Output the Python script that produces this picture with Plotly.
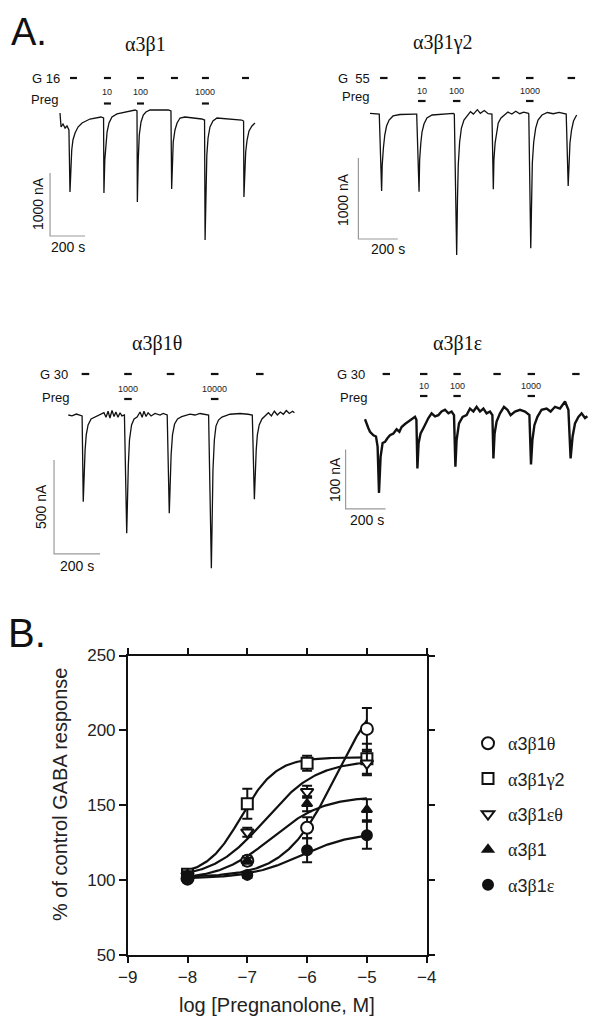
import plotly.graph_objects as go

# The page body has an 8 px default margin, so the figure is sized and shifted
# so that its content lands on the 600 x 1025 window exactly.
OFF = 8
W, H = 600 - OFF, 1025 - 2 * OFF
SANS = "Liberation Sans, Arial, sans-serif"
SERIF = "Liberation Serif, Times New Roman, serif"


def fx(px):
    return (px - OFF) / W


def fy(py):
    return 1 - (py - OFF) / H


# ── Panel A: oocyte current traces (time s, current nA) ───────────────────────
A31_T = [0, 6, 17, 29, 40, 51, 57, 62, 67, 74, 86, 103, 126, 171, 234,
         249, 251, 256, 261, 269, 280, 297, 326, 371, 429,
         440, 442, 447, 453, 463, 476, 491, 514, 619,
         634, 638, 642, 647, 657, 669, 686, 714, 810,
         826, 829, 833, 839, 846, 857, 874, 897, 1038,
         1049, 1051, 1056, 1061, 1069, 1080, 1097, 1114]
A31_I = [-48, -270, -222, -286, -254, -317, -1302, -873, -635, -476, -365, -270, -206, -143, -111,
         -127, -1317, -794, -556, -349, -206, -111, -63, -32, 0,
         -16, -1460, -794, -397, -190, -79, -32, 0, 0,
         -16, -1254, -794, -508, -317, -206, -127, -111, -143,
         -159, -2063, -1190, -714, -444, -270, -175, -127, -159,
         -175, -1381, -952, -667, -476, -333, -254, -206]
A31_G = [57, 251, 440, 634, 811, 1040]

A31G2_T = [0, 47, 59, 62, 68, 75, 84, 97, 117, 152, 228,
           237, 249, 252, 258, 264, 274, 289, 315, 423,
           428, 440, 444, 448, 455, 464, 477, 497, 510, 525, 545, 560, 580, 600, 618,
           619, 626, 629, 635, 642, 651, 665, 685, 700, 720, 740, 760, 780, 804,
           806, 816, 820, 824, 831, 841, 853, 873, 900, 930, 960, 993,
           996, 1006, 1010, 1015, 1023, 1033, 1049]
A31G2_I = [0, -9, -959, -640, -428, -268, -157, -83, -33, -15, -9,
           -9, -968, -577, -367, -231, -132, -58, -21, 0,
           -9, -1750, -1070, -638, -354, -182, -83, -21, 20, -10, 45, 0, 35, -5, 0,
           -9, -938, -577, -367, -231, -120, -58, -21, 15, -10, 25, -5, 15, 0,
           -9, -1667, -1009, -614, -354, -182, -83, -21, 10, -5, 12, 0,
           -9, -898, -577, -367, -207, -95, -21]
A31G2_G = [51, 244, 421, 620, 792, 1003]

A31T_T = [0, 16, 35, 60, 65, 68, 73, 78, 86, 99, 116, 138, 155, 164, 173, 181, 190, 199, 207, 216,
          225, 233, 244,
          254, 257, 261, 266, 275, 286, 299, 312, 321, 329, 338, 347, 360, 377, 399, 412, 428,
          430, 439, 442, 447, 453, 462, 475, 493, 529, 551, 573, 595, 610,
          622, 625, 629, 635, 642, 653, 668, 703, 747, 782, 800,
          809, 812, 817, 822, 830, 842, 855, 870, 883, 896, 909, 922, 935, 948, 961, 975, 983]
A31T_I = [0, -5, 5, -5, -461, -319, -186, -106, -53, -21, -11, 0, 12, -12, 20, -16, 24, -8, 16, -12,
          12, -5, 0,
          -629, -452, -266, -133, -53, -21, -11, 16, -12, 20, -8, 12, -5, 8, 0, 8, 0,
          0, -523, -372, -213, -106, -48, -21, -9, 5, 0, 8, 4, 0,
          -815, -558, -293, -133, -59, -27, -11, 4, 8, 4, 0,
          -448, -319, -186, -106, -53, -21, -5, 12, -5, 20, 0, 16, 4, 24, 8, 20, 12]
A31T_G = [58, 243, 428, 620, 816]

A31E_T = [0, 8, 17, 25, 42, 55, 63, 70, 78, 88, 100, 112, 125, 142, 158, 172, 183, 200, 217, 233,
          250, 257, 262, 268, 278, 295, 317, 333, 350, 367, 383, 400, 417, 433, 445, 452, 458, 470,
          488, 508, 525, 542, 558, 575, 592, 608, 625, 637, 642, 648, 658, 675, 695, 712, 728, 750,
          775, 800, 822, 830, 837, 847, 862, 883, 908, 928, 950, 975, 1000, 1017, 1028, 1038, 1050,
          1067, 1083, 1100, 1112]
A31E_I = [-24, -32, -39, -45, -51, -53, -70, -148, -87, -64, -62, -56, -51, -48, -41, -45, -37, -32,
          -28, -25, -20, -25, -107, -64, -48, -37, -22, -14, -19, -17, -11, -8, -14, -11, -17, -104,
          -59, -31, -20, -17, -6, -11, -3, -11, -6, -14, -11, -17, -90, -48, -28, -14, -3, -8, -17,
          -11, -8, -11, -17, -100, -59, -34, -20, -8, -6, -11, -3, -6, 6, -8, -90, -53, -31, -20,
          -14, -22, -19]
A31E_G = [88, 275, 442, 642, 813, 1036]

# ── Panel B: concentration-response ───────────────────────────────────────────
LOG_CONC = [-8, -7, -6, -5]
SERIES = ["α3β1θ", "α3β1γ2", "α3β1εθ", "α3β1", "α3β1ε"]
RESP_THETA = [101, 113, 135, 201]
RESP_GAMMA2 = [104, 151, 178, 181]
RESP_EPSTHETA = [103, 132, 159, 178]
RESP_A3B1 = [104, 113, 151, 147]
RESP_EPS = [101, 103.5, 120, 130]
SEM_THETA = [2, 3, 7, 14]
SEM_GAMMA2 = [2, 10, 5, 10]
SEM_EPSTHETA = [2, 3, 4, 8]
SEM_A3B1 = [2, 2, 5, 7]
SEM_EPS = [1, 2, 8, 9]
# Hill fit: bottom, top, logEC50, slope
FIT_THETA = [102, 240, -5.5, 1.0]
FIT_GAMMA2 = [103, 182, -7.1, 1.5]
FIT_EPSTHETA = [101, 180, -6.7, 1.0]
FIT_A3B1 = [100, 156, -6.6, 1.0]
FIT_EPS = [101, 132, -6.1, 1.0]

fig = go.Figure()

# ---------------------------------------------------------------- panel A
panels = [
    dict(t=A31_T, i=A31_I, g=A31_G, preg=[1, 2, 4], plbl=["10", "100", "1000"], gdur=40,
         title="α3β1", gtxt="G 16", box=(20, 60, 292, 280), org=(60, 110), sx=0.175, sy=0.063,
         title_xy=(145, 45), g_y=78, p_y=103.5, lbl_y=92, gtxt_x=62, ptxt_x=59.5, ptxt_y=99,
         bar=(-57, -2000), bar_s=200, bar_na=1000, vlab=(38, 204), hlab=(68, 247), lw=1.3),
    dict(t=A31G2_T, i=A31G2_I, g=A31G2_G, preg=[1, 2, 4], plbl=["10", "100", "1000"], gdur=38,
         title="α3β1γ2", gtxt="G  55", box=(318, 60, 595, 280), org=(370, 113.3), sx=0.197, sy=0.081,
         title_xy=(443, 43), g_y=78, p_y=101, lbl_y=91, gtxt_x=372, ptxt_x=371, ptxt_y=97,
         bar=(-59, -1552), bar_s=200, bar_na=1000, vlab=(343, 200), hlab=(388, 249), lw=1.3),
    dict(t=A31T_T, i=A31T_I, g=A31T_G, preg=[1, 3], plbl=["1000", "10000"], gdur=33,
         title="α3β1θ", gtxt="G 30", box=(20, 360, 300, 590), org=(68.3, 415), sx=0.23, sy=0.188,
         title_xy=(157, 343), g_y=374, p_y=399, lbl_y=389, gtxt_x=70, ptxt_x=71, ptxt_y=397,
         bar=(-62, -739), bar_s=200, bar_na=500, vlab=(41, 507), hlab=(77, 566), lw=1.3),
    dict(t=A31E_T, i=A31E_I, g=A31E_G, preg=[1, 2, 4], plbl=["10", "100", "1000"], gdur=37,
         title="α3β1ε", gtxt="G 30", box=(318, 360, 598, 590), org=(365, 405), sx=0.2, sy=0.594,
         title_xy=(457, 343), g_y=374, p_y=396, lbl_y=386, gtxt_x=367, ptxt_x=368.5, ptxt_y=397,
         bar=(-97, -175), bar_s=200, bar_na=100, vlab=(335, 480), hlab=(367, 520), lw=2.4),
]

annotations = []
shapes = []
for k, p in enumerate(panels, start=2):
    xa, ya = f"x{k}", f"y{k}"
    x0, y0, x1, y1 = p["box"]
    ox, oy = p["org"]
    fig.update_layout({
        f"xaxis{k}": dict(domain=[fx(x0), fx(x1)], range=[(x0 - ox) / p["sx"], (x1 - ox) / p["sx"]],
                          visible=False, anchor=ya, fixedrange=True),
        f"yaxis{k}": dict(domain=[fy(y1), fy(y0)], range=[(oy - y1) / p["sy"], (oy - y0) / p["sy"]],
                          visible=False, anchor=xa, fixedrange=True),
    })
    fig.add_trace(go.Scatter(x=p["t"], y=p["i"], mode="lines", xaxis=xa, yaxis=ya,
                             line=dict(color="#111111", width=p["lw"]), showlegend=False,
                             hoverinfo="skip"))
    # scale bar
    bt, bi = p["bar"]
    fig.add_trace(go.Scatter(x=[bt, bt, bt + p["bar_s"]], y=[bi + p["bar_na"], bi, bi],
                             mode="lines", xaxis=xa, yaxis=ya, showlegend=False, hoverinfo="skip",
                             line=dict(color="#9a9a9a", width=1.2)))
    # drug application bars
    for g in p["g"]:
        shapes.append(dict(type="line", xref=xa, yref="paper", x0=g, x1=g + p["gdur"],
                           y0=fy(p["g_y"]), y1=fy(p["g_y"]), line=dict(color="#111111", width=2.2)))
    for j, lbl in zip(p["preg"], p["plbl"]):
        g = p["g"][j]
        shapes.append(dict(type="line", xref=xa, yref="paper", x0=g, x1=g + p["gdur"],
                           y0=fy(p["p_y"]), y1=fy(p["p_y"]), line=dict(color="#111111", width=2.2)))
        annotations.append(dict(text=lbl, xref=xa, yref="paper", x=g + p["gdur"] / 2, y=fy(p["lbl_y"]),
                                xanchor="center", yanchor="middle",
                                font=dict(family=SANS, size=9, color="#222")))
    annotations += [
        dict(text=p["title"], x=fx(p["title_xy"][0]), y=fy(p["title_xy"][1]), xanchor="center",
             yanchor="middle", font=dict(family=SERIF, size=20, color="#111")),
        dict(text=p["gtxt"], x=fx(p["gtxt_x"]), y=fy(p["g_y"]), xanchor="right", yanchor="middle",
             font=dict(family=SANS, size=13, color="#111")),
        dict(text="Preg", x=fx(p["ptxt_x"]), y=fy(p["ptxt_y"]), xanchor="right", yanchor="middle",
             font=dict(family=SANS, size=13, color="#111")),
        dict(text=f"{p['bar_na']} nA", x=fx(p["vlab"][0]), y=fy(p["vlab"][1]), xanchor="center",
             yanchor="middle", textangle=-90, font=dict(family=SANS, size=14, color="#111")),
        dict(text=f"{p['bar_s']} s", x=fx(p["hlab"][0]), y=fy(p["hlab"][1]), xanchor="center",
             yanchor="middle", font=dict(family=SANS, size=14, color="#111")),
    ]

# ---------------------------------------------------------------- panel B
resp = [RESP_THETA, RESP_GAMMA2, RESP_EPSTHETA, RESP_A3B1, RESP_EPS]
sem = [SEM_THETA, SEM_GAMMA2, SEM_EPSTHETA, SEM_A3B1, SEM_EPS]
fits = [FIT_THETA, FIT_GAMMA2, FIT_EPSTHETA, FIT_A3B1, FIT_EPS]
symbols = ["circle", "square", "triangle-down", "triangle-up", "circle"]
fills = ["white", "white", "white", "#111111", "#111111"]
sizes = [12, 11, 11, 9, 10]

xs = [LOG_CONC[0] + n * (LOG_CONC[-1] - LOG_CONC[0]) / 150 for n in range(151)]
for f in fits:
    bot, top, ec, h = f
    fig.add_trace(go.Scatter(x=xs, y=[bot + (top - bot) / (1 + 10 ** (h * (ec - x))) for x in xs],
                             mode="lines", line=dict(color="#111111", width=2.2),
                             showlegend=False, hoverinfo="skip"))

SPAN = '<span style="font-family:Liberation Serif">{}</span>'
for k, name in enumerate(SERIES):
    label = "".join(SPAN.format(c) if c in "αβγθε" else c for c in name)
    fig.add_trace(go.Scatter(
        x=LOG_CONC, y=resp[k], mode="markers", name=label, legendgroup=name,
        error_y=dict(type="data", array=sem[k], color="#111111", thickness=2, width=5),
        marker=dict(symbol=symbols[k], size=sizes[k], color=fills[k],
                    line=dict(color="#111111", width=2)),
    ))

axis_common = dict(showline=True, linecolor="#111111", linewidth=1.5, mirror="ticks",
                   ticks="outside", tickwidth=1.5, tickcolor="#111111", showgrid=False,
                   zeroline=False, tickfont=dict(family=SANS, size=17, color="#222"), fixedrange=True)
fig.update_layout(
    xaxis=dict(domain=[fx(127.7), fx(426.7)], range=[-9, -4], dtick=1, ticklen=6, anchor="y",
               **axis_common),
    yaxis=dict(domain=[fy(955), fy(655.5)], range=[50, 250], dtick=50, ticklen=7, anchor="x",
               **axis_common),
)
annotations += [
    dict(text="A.", x=fx(29), y=fy(32), xanchor="center", yanchor="middle",
         font=dict(family=SANS, size=38, color="#111")),
    dict(text="B.", x=fx(27), y=fy(633), xanchor="center", yanchor="middle",
         font=dict(family=SANS, size=40, color="#111")),
    dict(text="% of control GABA response", x=fx(60), y=fy(795), xanchor="center",
         yanchor="middle", textangle=-90, font=dict(family=SANS, size=20, color="#222")),
    dict(text="log [Pregnanolone, M]", x=fx(277), y=fy(1005), xanchor="center", yanchor="middle",
         font=dict(family=SANS, size=20, color="#222")),
]
for a in annotations:
    a.setdefault("showarrow", False)
    a.setdefault("xref", "paper")
    a.setdefault("yref", "paper")

fig.update_layout(
    width=W, height=H, autosize=False,
    margin=dict(l=0, r=0, t=0, b=0, autoexpand=False),
    paper_bgcolor="white", plot_bgcolor="rgba(0,0,0,0)",
    annotations=annotations, shapes=shapes,
    legend=dict(x=fx(468), y=fy(725), xanchor="left", yanchor="top", tracegroupgap=9,
                font=dict(family=SANS, size=18, color="#222"), bgcolor="rgba(0,0,0,0)",
                itemwidth=30),
)

fig.write_html("out.html")
